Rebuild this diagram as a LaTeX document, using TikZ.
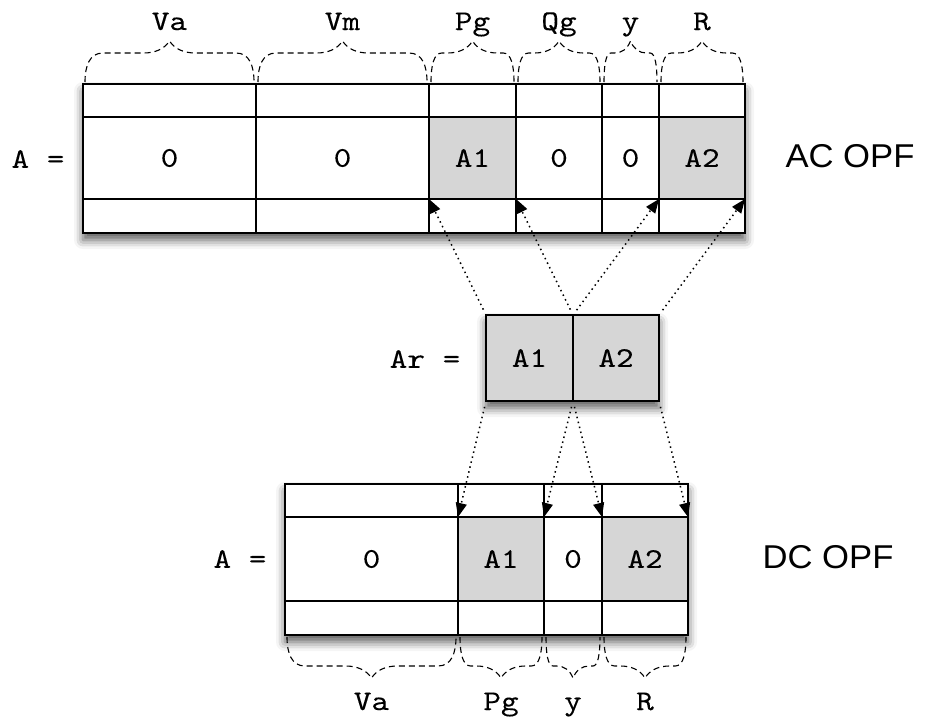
\documentclass[tikz,border=0pt]{standalone}
\usepackage{fontspec}
\setmainfont{Liberation Sans}
\newfontfamily\monof{lmmono10-regular.otf}[FakeStretch=1.18,FakeBold=0.12]
\newfontfamily\sansf[FakeStretch=1.05]{Liberation Sans}
\usetikzlibrary{fit,arrows.meta,shadows.blur}
\definecolor{cellgray}{RGB}{214,214,214}
\newcommand\bracemark[7]{%
  \pgfmathsetmacro\bxa{#1+2}%
  \pgfmathsetmacro\bxb{#2-2}%
  \pgfmathsetmacro\bw{\bxb-\bxa}%
  \pgfmathsetmacro\be{min(18,0.13*\bw)}%
  \pgfmathsetmacro\bd{min(26,0.3*\bw)}%
  \pgfmathsetmacro\bm{(\bxa+\bxb)/2}%
  \pgfmathsetmacro\ya{#3+#4*2}%
  \pgfmathsetmacro\yb{#3+#4*18}%
  \pgfmathsetmacro\yl{#3+#4*31}%
  \pgfmathsetmacro\yc{#3+#4*35}%
  \pgfmathsetmacro\yt{#3+#4*43}%
  \pgfmathsetmacro\xca{\bxa+0.25*\be}%
  \pgfmathsetmacro\xpa{\bxa+\be}%
  \pgfmathsetmacro\xqa{\bm-\bd}%
  \pgfmathsetmacro\xra{\bm-0.55*\bd}%
  \pgfmathsetmacro\xsa{\bm-0.2*\bd}%
  \pgfmathsetmacro\xcb{\bxb-0.25*\be}%
  \pgfmathsetmacro\xpb{\bxb-\be}%
  \pgfmathsetmacro\xqb{\bm+\bd}%
  \pgfmathsetmacro\xrb{\bm+0.55*\bd}%
  \pgfmathsetmacro\xsb{\bm+0.2*\bd}%
  \draw[bracedash] (\bxa,\ya) .. controls (\bxa,\yb) and (\xca,\yl) .. (\xpa,\yl)
    -- (\xqa,\yl) .. controls (\xra,\yl) and (\xsa,\yc) .. (\bm,\yt)
    .. controls (\xsb,\yc) and (\xrb,\yl) .. (\xqb,\yl)
    -- (\xpb,\yl) .. controls (\xcb,\yl) and (\bxb,\yb) .. (\bxb,\ya);
  \node[lbl, anchor=base] (#6) at (\bm,#7) {#5};%
}
\begin{document}
\begin{tikzpicture}[x=1pt,y=-1pt,
  cell/.style={draw=black, line width=1.3pt, inner sep=0pt, outer sep=0pt},
  frame/.style={fill=white, inner sep=0pt, outer sep=0pt,
    blur shadow={shadow xshift=0pt, shadow yshift=-7pt, shadow blur radius=9pt, shadow opacity=65}},
  lbl/.style={inner sep=0pt, font=\monof\fontsize{28.5}{33}\selectfont},
  big/.style={inner sep=0pt, font=\sansf\fontsize{33}{38}\selectfont},
  bracedash/.style={line width=1.1pt, dash pattern=on 6pt off 4pt},
  arr/.style={line width=1.5pt, dash pattern=on 1.5pt off 3.6pt,
    -{Triangle[length=14pt,width=11pt]}, shorten <=6pt}
]
\useasboundingbox (0,0) rectangle (926,723);

% ---------- AC OPF matrix ----------
\node[frame, fit={(83,84) (745,233)}] (acframe) {};
\foreach \xa/\xb/\nm/\txt/\fc in {83/256/va/0/white, 256/429/vm/0/white,
  429/516/pg/A1/cellgray, 516/602/qg/0/white, 602/659/y/0/white, 659/745/r/A2/cellgray}{
  \node[cell, fit={(\xa,84) (\xb,117)}] (ac-\nm-t) {};
  \node[cell, fill=\fc, fit={(\xa,117) (\xb,199)}] (ac-\nm-m) {};
  \node[cell, fit={(\xa,199) (\xb,233)}] (ac-\nm-b) {};
  \node[lbl] (ac-\nm-txt) at (ac-\nm-m.center) {\txt};
}
\node[lbl] (acA) at (38,159) {A =};
\node[big] (aclabel) at (850,156) {AC OPF};

\bracemark{83}{256}{84}{-1}{Va}{tva}{30}
\bracemark{256}{429}{84}{-1}{Vm}{tvm}{30}
\bracemark{429}{516}{84}{-1}{Pg}{tpg}{30}
\bracemark{516}{602}{84}{-1}{Qg}{tqg}{30}
\bracemark{602}{659}{84}{-1}{y}{ty}{30}
\bracemark{659}{745}{84}{-1}{R}{tr}{30}

% ---------- Ar ----------
\node[frame, fit={(486,315) (659,401)}] (arframe) {};
\node[cell, fill=cellgray, fit={(486,315) (573,401)}] (ar1) {};
\node[cell, fill=cellgray, fit={(573,315) (659,401)}] (ar2) {};
\node[lbl] (ar1txt) at (ar1.center) {A1};
\node[lbl] (ar2txt) at (ar2.center) {A2};
\node[lbl] (arA) at (425,359) {Ar =};

% ---------- DC OPF matrix ----------
\node[frame, fit={(285,484) (688,635)}] (dcframe) {};
\foreach \xa/\xb/\nm/\txt/\fc in {285/458/va/0/white, 458/544/pg/A1/cellgray,
  544/602/y/0/white, 602/688/r/A2/cellgray}{
  \node[cell, fit={(\xa,484) (\xb,517)}] (dc-\nm-t) {};
  \node[cell, fill=\fc, fit={(\xa,517) (\xb,601)}] (dc-\nm-m) {};
  \node[cell, fit={(\xa,601) (\xb,635)}] (dc-\nm-b) {};
  \node[lbl] (dc-\nm-txt) at (dc-\nm-m.center) {\txt};
}
\node[lbl] (dcA) at (240,559) {A =};
\node[big] (dclabel) at (828,557) {DC OPF};

\bracemark{285}{458}{635}{1}{Va}{bva}{710}
\bracemark{458}{544}{635}{1}{Pg}{bpg}{710}
\bracemark{544}{602}{635}{1}{y}{by}{710}
\bracemark{602}{688}{635}{1}{R}{br}{710}

% ---------- arrows ----------
\draw[arr] (ar1.north west) -- (ac-pg-b.north west);
\draw[arr] (ar1.north east) -- (ac-qg-b.north west);
\draw[arr] (ar2.north west) -- (ac-r-b.north west);
\draw[arr] (ar2.north east) -- (ac-r-b.north east);

\draw[arr] (ar1.south west) -- (dc-pg-t.south west);
\draw[arr] (ar1.south east) -- (dc-y-t.south west);
\draw[arr] (ar2.south west) -- (dc-r-t.south west);
\draw[arr] (ar2.south east) -- (dc-r-t.south east);
\end{tikzpicture}
\end{document}
